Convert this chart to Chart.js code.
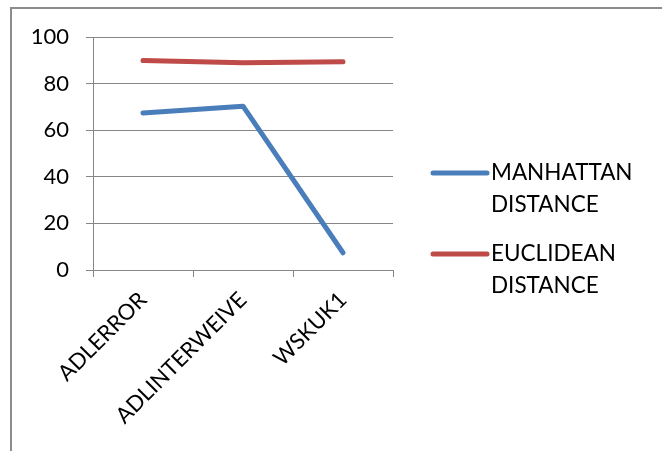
<!DOCTYPE html>
<html>
<head>
<meta charset="utf-8">
<script src="https://cdn.jsdelivr.net/npm/chart.js@4.4.1/dist/chart.umd.min.js"></script>
<style>
  html, body { margin: 0; padding: 0; background: #fff; }
  #wrap { position: relative; width: 662px; height: 451px; overflow: hidden; }
  #frame { position: absolute; left: 10px; top: 7px; width: 700px; height: 500px;
           border-left: 2px solid #8c8c8c; border-top: 2px solid #8c8c8c; }
  canvas { position: absolute; left: 0; top: 0; }
</style>
</head>
<body>
<div id="wrap">
  <div id="frame"></div>
  <canvas id="chart" width="662" height="451"></canvas>
</div>
<script>
// Distance measures per sample
const categories = ["ADLERROR", "ADLINTERWEIVE", "WSKUK1"];
const manhattan = [67.4, 70.3, 7.4];
const euclidean = [89.9, 88.9, 89.4];
const seriesNames = ["MANHATTAN DISTANCE", "EUCLIDEAN DISTANCE"];
const seriesColors = ["#4A7EBB", "#BE4B48"];
const yTicks = [0, 20, 40, 60, 80, 100];

const FONT = "Lato, 'Open Sans', sans-serif";
const gridColor = "#868686";

// Two-line legend drawn beside the plot
const sideLegend = {
  id: "sideLegend",
  afterDraw(chart) {
    const ctx = chart.ctx;
    const area = chart.chartArea;
    const x0 = area.right + 40;
    const x1 = x0 + 54;
    const tx = x1 + 4;
    ctx.save();
    ctx.font = "22.5px " + FONT;
    ctx.textBaseline = "middle";
    ctx.textAlign = "left";
    chart.data.datasets.forEach((ds, i) => {
      const y = 173 + i * 81;
      ctx.strokeStyle = ds.borderColor;
      ctx.lineWidth = 5;
      ctx.lineCap = "round";
      ctx.beginPath();
      ctx.moveTo(x0, y);
      ctx.lineTo(x1, y);
      ctx.stroke();
      ctx.fillStyle = "#000";
      ds.label.split(" ").forEach((word, j) => {
        ctx.fillText(word, tx, y + j * 32);
      });
    });
    ctx.restore();
  }
};

new Chart(document.getElementById("chart"), {
  type: "line",
  data: {
    labels: categories,
    datasets: [
      { label: seriesNames[0], data: manhattan, borderColor: seriesColors[0], backgroundColor: seriesColors[0] },
      { label: seriesNames[1], data: euclidean, borderColor: seriesColors[1], backgroundColor: seriesColors[1] }
    ]
  },
  options: {
    responsive: false,
    animation: false,
    devicePixelRatio: 1,
    layout: { padding: { left: 0, top: 37, right: 269, bottom: 0 } },
    elements: {
      line: { borderWidth: 5, tension: 0, borderCapStyle: "round", borderJoinStyle: "round" },
      point: { radius: 0, hoverRadius: 0 }
    },
    plugins: {
      legend: { display: false },
      tooltip: { enabled: false }
    },
    scales: {
      x: {
        offset: true,
        grid: { offset: true, drawOnChartArea: false, drawTicks: true, tickLength: 7, color: gridColor, lineWidth: 1 },
        border: { display: true, color: gridColor, width: 1 },
        ticks: { color: "#000", font: { family: FONT, size: 22 }, minRotation: 45, maxRotation: 45, padding: 10, autoSkip: false },
        afterFit(scale) { scale.height = 181; }
      },
      y: {
        min: 0,
        max: 100,
        afterBuildTicks(scale) { scale.ticks = yTicks.map(v => ({ value: v })); },
        grid: { color: gridColor, lineWidth: 1, drawTicks: true, tickLength: 7 },
        border: { display: true, color: gridColor, width: 1 },
        ticks: { color: "#000", font: { family: FONT, size: 22 }, padding: 17 },
        afterFit(scale) { scale.width = 93; }
      }
    }
  },
  plugins: [sideLegend]
});
</script>
</body>
</html>
